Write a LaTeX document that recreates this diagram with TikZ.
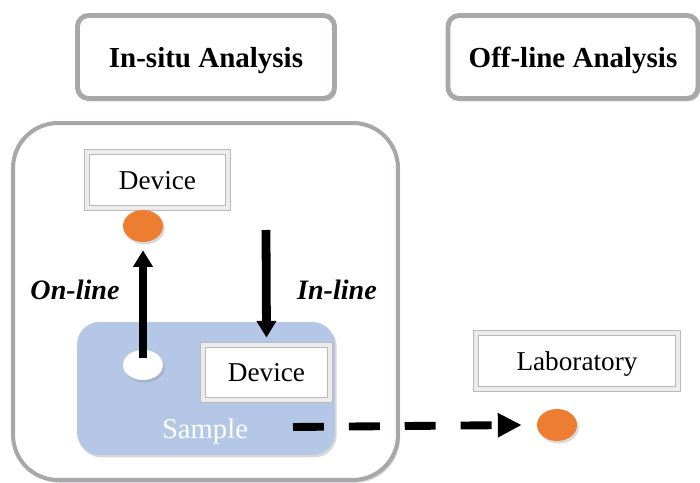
\documentclass[tikz,border=0pt]{standalone}
\usepackage{fontspec}
\setmainfont{Liberation Serif}
\usepackage{tikz}
\usetikzlibrary{arrows.meta,shadows,shapes.geometric}
\definecolor{Frame}{HTML}{A9A7A9}
\definecolor{Dot}{HTML}{ED7D31}
\definecolor{SampleBlue}{HTML}{B4C7E7}
\tikzset{
headbox/.style={draw=Frame, line width=2.8pt, rounded corners=2.2mm, fill=white, align=center, text depth=0pt, font=\fontsize{16.5}{19}\selectfont\bfseries, drop shadow={shadow xshift=1.2pt, shadow yshift=-1.6pt, opacity=0.3}},
sitebox/.style={draw=Frame, line width=2.3pt, rounded corners=9mm, fill=white, drop shadow={shadow xshift=1.2pt, shadow yshift=-1.6pt, opacity=0.3}},
samplebox/.style={fill=SampleBlue, rounded corners=4.5mm, drop shadow={shadow xshift=1pt, shadow yshift=-1.4pt, opacity=0.3}},
devbox/.style={draw=gray!55, line width=0.5pt, double=gray!15, double distance=2.2pt, fill=white, align=center, text depth=0pt, font=\fontsize{15.5}{18}\selectfont, drop shadow={shadow xshift=1pt, shadow yshift=-1.4pt, opacity=0.3}},
orangedot/.style={ellipse, fill=Dot, minimum width=0.8cm, minimum height=0.64cm, inner sep=0pt, drop shadow={shadow xshift=1pt, shadow yshift=-1.4pt, opacity=0.3}},
whitedot/.style={ellipse, fill=white, minimum width=0.8cm, minimum height=0.6cm, inner sep=0pt, drop shadow={shadow xshift=1pt, shadow yshift=-1.4pt, opacity=0.3}},
modelabel/.style={font=\fontsize{16}{19}\selectfont\bfseries\itshape},
flowarrow/.style={-{Triangle[length=9.5pt, width=10.8pt]}, line width=5pt},
dasharrow/.style={-{Triangle[length=13.6pt, width=13pt]}, line width=4.5pt, dash pattern=on 17.6pt off 14.2pt}
}
\begin{document}
\begin{tikzpicture}[x=0.02cm, y=-0.02cm]
  \useasboundingbox (0,0) rectangle (700,483);
  % header boxes
  \node[headbox, minimum width=5.14cm, minimum height=1.66cm] (insitu) at (206,57) {In-situ Analysis};
  \node[headbox, minimum width=5.0cm, minimum height=1.66cm] (offline) at (573,57) {Off-line Analysis};
  % in-situ part
  \node[sitebox, minimum width=7.7cm, minimum height=7.14cm] (site) at (205.5,301.5) {};
  \node[samplebox, minimum width=5.16cm, minimum height=2.66cm] (sample) at (206,388.5) {};
  \node[text=white, font=\fontsize{16.3}{19}\selectfont] (samplelbl) at (205,432) {Sample};
  \node[devbox, minimum width=2.82cm, minimum height=1.12cm] (devup) at (157.5,180) {Device};
  \node[devbox, minimum width=2.54cm, minimum height=1.1cm] (devlow) at (266.5,372.5) {Device};
  \node[orangedot] (onlinedot) at (143,226) {};
  \node[whitedot] (sampledot) at (143,365) {};
  \node[modelabel] (onlinelbl) at (75,290) {On-line};
  \node[modelabel] (inlinelbl) at (337,290) {In-line};
  \coordinate (inlinetop) at (266,230);
  \coordinate (sampleout) at (293,427);
  % off-line part
  \node[devbox, minimum width=4.04cm, minimum height=1.12cm] (lab) at (577,361) {Laboratory};
  \node[orangedot] (labdot) at (557,425) {};
  % connectors
  \draw[flowarrow] ([yshift=4pt]sampledot.center) -- ([yshift=-4.5pt]onlinedot.south);
  \draw[flowarrow] (inlinetop) -- ([yshift=4pt]devlow.north);
  \draw[dasharrow] (sampleout) -- ([xshift=-8.5pt]labdot.west);
\end{tikzpicture}
\end{document}
